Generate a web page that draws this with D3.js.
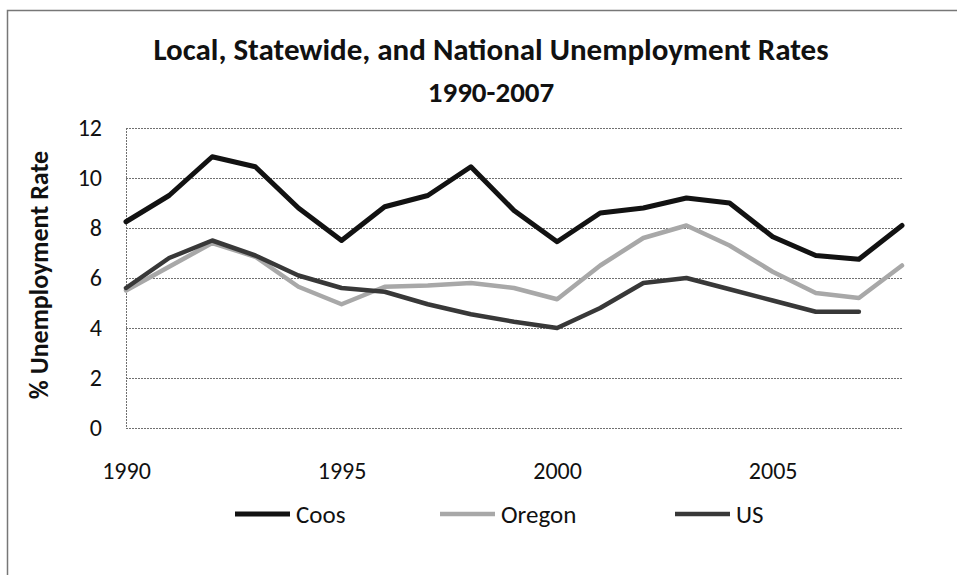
<!DOCTYPE html>
<html>
<head>
<meta charset="utf-8">
<script src="https://cdn.jsdelivr.net/npm/d3@7"></script>
<style>
  html, body { margin: 0; padding: 0; background: #fff; }
  svg text { font-family: Carlito, Lato, "Liberation Sans Narrow", sans-serif; fill: #111; }
</style>
</head>
<body>
<svg id="chart" width="957" height="575"></svg>
<script>
// Annual unemployment rates (%), 1990 onward
const years = d3.range(1990, 2009);
const coos   = [8.25, 9.3, 10.85, 10.45, 8.8, 7.5, 8.85, 9.3, 10.45, 8.7, 7.45, 8.6, 8.8, 9.2, 9.0, 7.65, 6.9, 6.75, 8.1];
const oregon = [5.5, 6.45, 7.4, 6.85, 5.65, 4.95, 5.65, 5.7, 5.8, 5.6, 5.15, 6.5, 7.6, 8.1, 7.3, 6.25, 5.4, 5.2, 6.5];
const us     = [5.6, 6.8, 7.5, 6.9, 6.1, 5.6, 5.45, 4.95, 4.55, 4.25, 4.0, 4.8, 5.8, 6.0, 5.55, 5.1, 4.65, 4.65];
const yTicks = [0, 2, 4, 6, 8, 10, 12];
const xTicks = [1990, 1995, 2000, 2005];

const series = [
  { name: "Coos",   values: coos,   color: "#121212", width: 5 },
  { name: "Oregon", values: oregon, color: "#a8a8a8", width: 4.5 },
  { name: "US",     values: us,     color: "#383838", width: 4.5 }
];

const svg = d3.select("#chart");

// outer chart frame
svg.append("rect")
  .attr("x", 7.5).attr("y", 10.5).attr("width", 1000).attr("height", 600)
  .attr("fill", "none").attr("stroke", "#777").attr("stroke-width", 1.5);

const plotLeft = 126, plotRight = 902, plotTop = 128, plotBottom = 428;

const x = d3.scaleLinear().domain([1990, 2008]).range([plotLeft, plotRight]);
const y = d3.scaleLinear().domain([0, 12]).range([plotBottom, plotTop]);

// horizontal gridlines
svg.append("g")
  .selectAll("line")
  .data(yTicks)
  .join("line")
  .attr("x1", plotLeft).attr("x2", plotRight + 1)
  .attr("y1", d => y(d) + 0.5).attr("y2", d => y(d) + 0.5)
  .attr("stroke", "#707070").attr("stroke-width", 1)
  .attr("stroke-dasharray", "2,1");

// left axis line
svg.append("line")
  .attr("x1", plotLeft + 0.5).attr("x2", plotLeft + 0.5)
  .attr("y1", plotTop).attr("y2", plotBottom)
  .attr("stroke", "#707070").attr("stroke-dasharray", "2,1");

// y axis labels
const yAxis = d3.axisLeft(y).tickValues(yTicks).tickSize(0).tickPadding(24);
const gy = svg.append("g").attr("transform", `translate(${plotLeft},0)`).call(yAxis);
gy.select(".domain").remove();
gy.selectAll("text").attr("font-size", 24).attr("fill", "#111")
  .style("font-family", "Carlito, Lato, sans-serif");

// x axis labels
const xAxis = d3.axisBottom(x).tickValues(xTicks).tickFormat(d3.format("d")).tickSize(0).tickPadding(34);
const gx = svg.append("g").attr("transform", `translate(0,${plotBottom})`).call(xAxis);
gx.select(".domain").remove();
gx.selectAll("text").attr("font-size", 24).attr("fill", "#111")
  .style("font-family", "Carlito, Lato, sans-serif");

// series lines
const line = d3.line()
  .x((d, i) => x(years[i]))
  .y(d => y(d));

svg.append("g")
  .selectAll("path")
  .data([series[1], series[2], series[0]])
  .join("path")
  .attr("d", d => line(d.values))
  .attr("fill", "none")
  .attr("stroke", d => d.color)
  .attr("stroke-width", d => d.width)
  .attr("stroke-linejoin", "round")
  .attr("stroke-linecap", "round");

// titles
svg.append("text")
  .attr("x", 491).attr("y", 60)
  .attr("text-anchor", "middle")
  .attr("font-size", 31).attr("font-weight", "bold")
  .text("Local, Statewide, and National Unemployment Rates");
svg.append("text")
  .attr("x", 491).attr("y", 102)
  .attr("text-anchor", "middle")
  .attr("font-size", 29).attr("font-weight", "bold")
  .text("1990-2007");

svg.append("text")
  .attr("transform", "translate(48,275) rotate(-90)")
  .attr("text-anchor", "middle")
  .attr("font-size", 26).attr("font-weight", "bold")
  .text("% Unemployment Rate");

// legend
const legendX = [235, 440, 675];
const lg = svg.append("g")
  .selectAll("g")
  .data(series)
  .join("g")
  .attr("transform", (d, i) => `translate(${legendX[i]},514)`);
lg.append("line")
  .attr("x1", 0).attr("x2", 55)
  .attr("stroke", d => d.color).attr("stroke-width", d => d.width);
lg.append("text")
  .attr("x", 61).attr("y", 9)
  .attr("font-size", 25)
  .text(d => d.name);
</script>
</body>
</html>
